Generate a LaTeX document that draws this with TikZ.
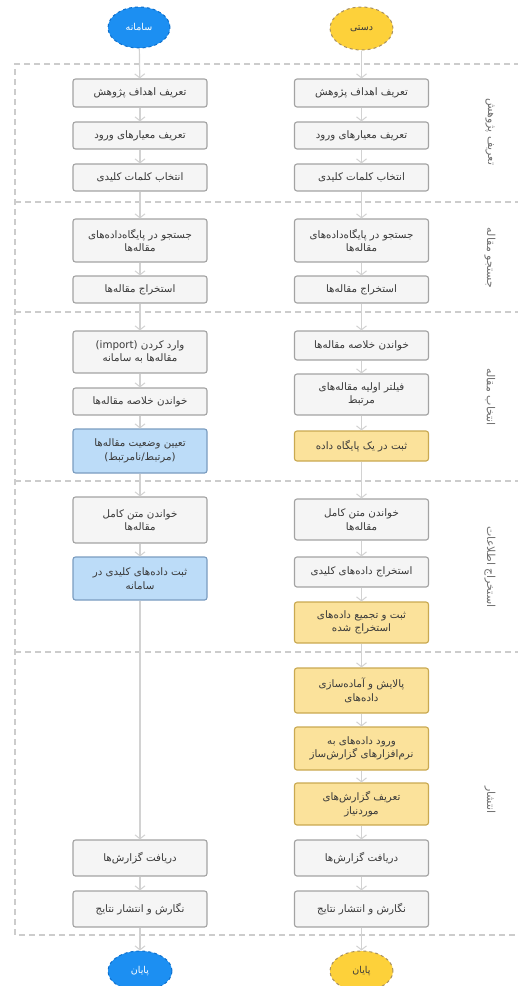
\documentclass[tikz,border=0pt]{standalone}
\usepackage{fontspec}
\TeXXeTstate=1
\newfontfamily\arabicfont[Script=Arabic]{DejaVu Sans}
\usetikzlibrary{arrows.meta,shapes.geometric}
\definecolor{boxfill}{HTML}{F5F5F5}
\definecolor{boxborder}{HTML}{A3A3A3}
\definecolor{bluefill}{HTML}{BCDCF8}
\definecolor{blueborder}{HTML}{7A9CC0}
\definecolor{yelfill}{HTML}{FBE29B}
\definecolor{yelborder}{HTML}{C9A951}
\definecolor{linegray}{HTML}{D2D2D2}
\definecolor{lanegray}{HTML}{CCCCCC}
\definecolor{labelgray}{HTML}{707070}
\definecolor{textgray}{HTML}{3A3A3A}
\definecolor{startblue}{HTML}{1C8FF2}
\definecolor{startblueb}{HTML}{0D6FCC}
\definecolor{startyel}{HTML}{FDD13A}
\definecolor{startyelb}{HTML}{A89060}
\newcommand{\fa}[1]{\beginR #1\endR}
\tikzset{
  box/.style={draw=boxborder, fill=boxfill, rounded corners=2.5pt, line width=1.1pt,
    minimum width=134pt, inner sep=1pt, align=center, text=textgray,
    font=\arabicfont\fontsize{10.3}{13.5}\selectfont},
  bluebox/.style={box, fill=bluefill, draw=blueborder},
  yellowbox/.style={box, fill=yelfill, draw=yelborder},
  flow/.style={draw=linegray, line width=1.2pt, -{Straight Barb[length=4pt,width=10pt,line width=1pt]}},
  lane/.style={draw=lanegray, line width=1.3pt, dash pattern=on 6pt off 4pt},
  lanelabel/.style={rotate=-90, text=labelgray, font=\arabicfont\fontsize{11}{13}\selectfont},
  term/.style={ellipse, line width=1pt, dashed, inner sep=0pt, font=\arabicfont\fontsize{9.5}{10}\selectfont},
}
\begin{document}
\begin{tikzpicture}[x=1pt,y=-1pt]
\useasboundingbox (0,0) rectangle (518,986);
% swimlanes
\draw[lane] (530,64) -- (15,64) -- (15,935) -- (530,935);
\draw[lane] (15,202) -- (530,202);
\draw[lane] (15,312) -- (530,312);
\draw[lane] (15,481) -- (530,481);
\draw[lane] (15,652) -- (530,652);
\node[lanelabel] (lab1) at (490,132) {\fa{تعریف پژوهش}};
\node[lanelabel] (lab2) at (490,258) {\fa{جستجو مقاله}};
\node[lanelabel] (lab3) at (490,397) {\fa{انتخاب مقاله}};
\node[lanelabel] (lab4) at (490,567) {\fa{استخراج اطلاعات}};
\node[lanelabel] (lab5) at (490,800) {\fa{انتشار}};
% terminals
\node[term, fill=startblue, draw=startblueb, text=white, minimum width=62pt, minimum height=41pt] (ls) at (139,27.5) {\fa{سامانه}};
\node[term, fill=startyel, draw=startyelb, text=textgray, minimum width=63pt, minimum height=43pt] (rs) at (361.5,28.5) {\fa{دستی}};
\node[term, fill=startblue, draw=startblueb, text=white, minimum width=64pt, minimum height=40pt] (le) at (140,971) {\fa{پایان}};
\node[term, fill=startyel, draw=startyelb, text=textgray, minimum width=63pt, minimum height=40pt] (re) at (361.5,971) {\fa{پایان}};
% left column
\node[box, minimum height=28pt] (l1) at (140,93) {\fa{تعریف اهداف پژوهش}};
\node[box, minimum height=27pt] (l2) at (140,135.5) {\fa{تعریف معیارهای ورود}};
\node[box, minimum height=27pt] (l3) at (140,177.5) {\fa{انتخاب کلمات کلیدی}};
\node[box, minimum height=43pt] (l4) at (140,240.5) {\fa{جستجو در پایگاه‌داده‌های}\\\fa{مقاله‌ها}};
\node[box, minimum height=27pt] (l5) at (140,289.5) {\fa{استخراج مقاله‌ها}};
\node[box, minimum height=42pt] (l6) at (140,352) {\fa{وارد کردن (\beginL import\endL)}\\\fa{مقاله‌ها به سامانه}};
\node[box, minimum height=27pt] (l7) at (140,401.5) {\fa{خواندن خلاصه مقاله‌ها}};
\node[bluebox, minimum height=44pt] (l8) at (140,451) {\fa{تعیین وضعیت مقاله‌ها}\\\fa{(مرتبط/نامرتبط)}};
\node[box, minimum height=46pt] (l9) at (140,520) {\fa{خواندن متن کامل}\\\fa{مقاله‌ها}};
\node[bluebox, minimum height=43pt] (l10) at (140,578.5) {\fa{ثبت داده‌های کلیدی در}\\\fa{سامانه}};
\node[box, minimum height=36pt] (l11) at (140,858) {\fa{دریافت گزارش‌ها}};
\node[box, minimum height=36pt] (l12) at (140,909) {\fa{نگارش و انتشار نتایج}};
% right column
\node[box, minimum height=28pt] (r1) at (361.5,93) {\fa{تعریف اهداف پژوهش}};
\node[box, minimum height=27pt] (r2) at (361.5,135.5) {\fa{تعریف معیارهای ورود}};
\node[box, minimum height=27pt] (r3) at (361.5,177.5) {\fa{انتخاب کلمات کلیدی}};
\node[box, minimum height=43pt] (r4) at (361.5,240.5) {\fa{جستجو در پایگاه‌داده‌های}\\\fa{مقاله‌ها}};
\node[box, minimum height=27pt] (r5) at (361.5,289.5) {\fa{استخراج مقاله‌ها}};
\node[box, minimum height=29pt] (r6) at (361.5,345.5) {\fa{خواندن خلاصه مقاله‌ها}};
\node[box, minimum height=41pt] (r7) at (361.5,394.5) {\fa{فیلتر اولیه مقاله‌های}\\\fa{مرتبط}};
\node[yellowbox, minimum height=30pt] (r8) at (361.5,446) {\fa{ثبت در یک پایگاه داده}};
\node[box, minimum height=41pt] (r9) at (361.5,519.5) {\fa{خواندن متن کامل}\\\fa{مقاله‌ها}};
\node[box, minimum height=30pt] (r10) at (361.5,572) {\fa{استخراج داده‌های کلیدی}};
\node[yellowbox, minimum height=41pt] (r11) at (361.5,622.5) {\fa{ثبت و تجمیع داده‌های}\\\fa{استخراج شده}};
\node[yellowbox, minimum height=45pt] (r12) at (361.5,690.5) {\fa{پالایش و آماده‌سازی}\\\fa{داده‌های}};
\node[yellowbox, minimum height=43pt] (r13) at (361.5,748.5) {\fa{ورود داده‌های به}\\\fa{نرم‌افزارهای گزارش‌ساز}};
\node[yellowbox, minimum height=42pt] (r14) at (361.5,804) {\fa{تعریف گزارش‌های}\\\fa{موردنیاز}};
\node[box, minimum height=36pt] (r15) at (361.5,858) {\fa{دریافت گزارش‌ها}};
\node[box, minimum height=36pt] (r16) at (361.5,909) {\fa{نگارش و انتشار نتایج}};
% connectors
\foreach \a/\b in {ls/l1,l1/l2,l2/l3,l3/l4,l4/l5,l5/l6,l6/l7,l7/l8,l8/l9,l9/l10,l10/l11,l11/l12,l12/le,
  rs/r1,r1/r2,r2/r3,r3/r4,r4/r5,r5/r6,r6/r7,r7/r8,r8/r9,r9/r10,r10/r11,r11/r12,r12/r13,r13/r14,r14/r15,r15/r16,r16/re}
  \draw[flow] (\a) -- (\b);
\end{tikzpicture}
\end{document}
